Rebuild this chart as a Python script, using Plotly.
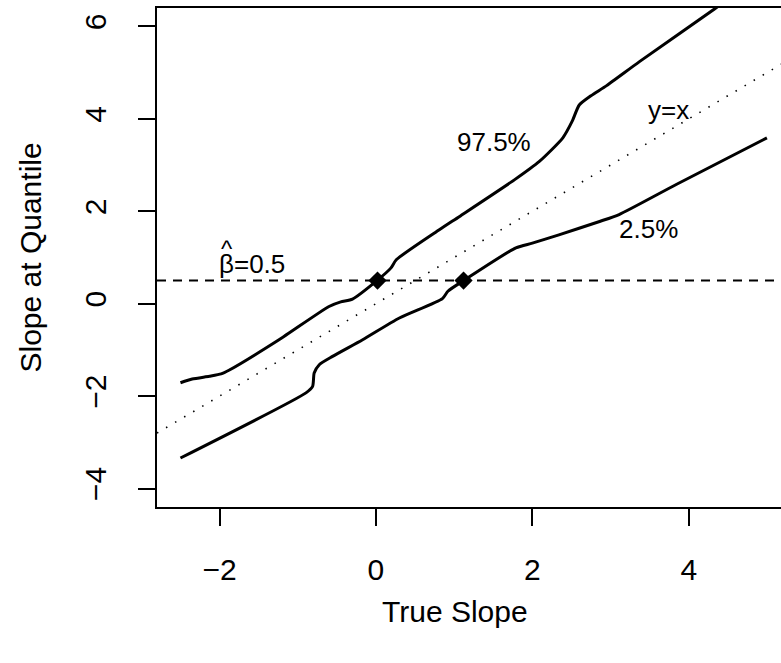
import plotly.graph_objects as go

# ---- data ----
upper_x = [-2.50, -2.35, -2.13, -1.98, -1.88, -1.24, -0.60, -0.45, -0.30, 0.02, 0.19, 0.26,
           0.81, 1.07, 1.77, 2.09, 2.39, 2.51, 2.60, 2.75, 2.95, 3.37, 4.33, 5.00]
upper_y = [-1.71, -1.63, -1.57, -1.52, -1.44, -0.78, -0.06, 0.04, 0.10, 0.51, 0.77, 0.95,
           1.60, 1.89, 2.68, 3.08, 3.59, 3.95, 4.30, 4.50, 4.72, 5.24, 6.38, 7.20]

lower_x = [-2.50, -0.895, -0.81, -0.79, -0.725, -0.555, -0.17, 0.30, 0.85, 0.92, 1.13,
           1.79, 2.00, 2.34, 2.86, 3.11, 3.84, 5.00]
lower_y = [-3.34, -1.93, -1.79, -1.50, -1.32, -1.14, -0.78, -0.31, 0.11, 0.27, 0.51,
           1.21, 1.31, 1.49, 1.78, 1.93, 2.58, 3.59]

beta_hat = 0.5
cross_x = [0.02, 1.12]
cross_y = [beta_hat, beta_hat]

identity_x = [-2.8, 5.2]
identity_y = [-2.8, 5.2]

x_ticks = [-2, 0, 2, 4]
y_ticks = [-4, -2, 0, 2, 4, 6]
x_tick_text = ["\u22122", "0", "2", "4"]
y_tick_text = ["\u22124", "\u22122", "0", "2", "4", "6"]

labels = ["97.5%", "2.5%", "y=x", "\u03b2=0.5"]
label_x = [1.51, 3.48, 3.74, -1.58]
label_y = [3.49, 1.61, 4.20, 0.85]

hat_text = "^"
hat_x = -1.91
hat_y = 1.20

FONT = "Liberation Sans, Arial, Helvetica, sans-serif"

fig = go.Figure()

fig.add_trace(go.Scatter(x=identity_x, y=identity_y, mode="lines",
                         line=dict(color="black", width=1.6, dash="1.5px,9px"),
                         hoverinfo="skip", showlegend=False))
fig.add_shape(type="line", xref="paper", x0=0, x1=1, yref="y", y0=beta_hat, y1=beta_hat,
              line=dict(color="black", width=2, dash="9px,7px"), layer="above")
fig.add_trace(go.Scatter(x=upper_x, y=upper_y, mode="lines",
                         line=dict(color="black", width=3, shape="spline", smoothing=0.6),
                         showlegend=False))
fig.add_trace(go.Scatter(x=lower_x, y=lower_y, mode="lines",
                         line=dict(color="black", width=3, shape="spline", smoothing=0.6),
                         showlegend=False))
fig.add_trace(go.Scatter(x=cross_x, y=cross_y, mode="markers",
                         marker=dict(symbol="diamond", size=14, color="black"),
                         showlegend=False))

for t, lx, ly in zip(labels, label_x, label_y):
    fig.add_annotation(x=lx, y=ly, text=t, showarrow=False,
                       xanchor="center", yanchor="middle",
                       font=dict(family=FONT, size=26, color="black"))

# circumflex (hat) over beta
fig.add_annotation(x=hat_x, y=hat_y, text=hat_text, showarrow=False,
                   xanchor="center", yanchor="middle",
                   font=dict(family=FONT, size=24, color="black"))

fig.add_annotation(xref="paper", yref="paper", x=(30 - 157) / 624, y=0.5,
                   xanchor="center", yanchor="middle",
                   text="Slope at Quantile", textangle=-90, showarrow=False,
                   font=dict(family=FONT, size=30, color="black"))
fig.add_annotation(xref="paper", yref="paper", x=(455 - 157) / 624, y=(507 - 612) / 499,
                   xanchor="center", yanchor="middle",
                   text="True Slope", showarrow=False,
                   font=dict(family=FONT, size=30, color="black"))

fig.update_layout(
    width=781, height=663,
    margin=dict(l=157, r=0, t=8, b=156),
    paper_bgcolor="white", plot_bgcolor="white",
    xaxis=dict(range=[-2.8, 5.18], showgrid=False, zeroline=False,
               showline=True, linecolor="black", linewidth=2, mirror=True,
               ticks="outside", ticklen=17, tickwidth=2, tickcolor="black",
               tickvals=x_ticks, ticktext=x_tick_text, ticklabelstandoff=18,
               tickfont=dict(family=FONT, size=30, color="black")),
    yaxis=dict(range=[-4.4, 6.4], showgrid=False, zeroline=False,
               showline=True, linecolor="black", linewidth=2, mirror=False,
               ticks="outside", ticklen=17, tickwidth=2, tickcolor="black",
               tickvals=y_ticks, ticktext=y_tick_text, tickangle=-90,
               ticklabelstandoff=20,
               tickfont=dict(family=FONT, size=30, color="black")),
)

fig.write_html("out.html")
